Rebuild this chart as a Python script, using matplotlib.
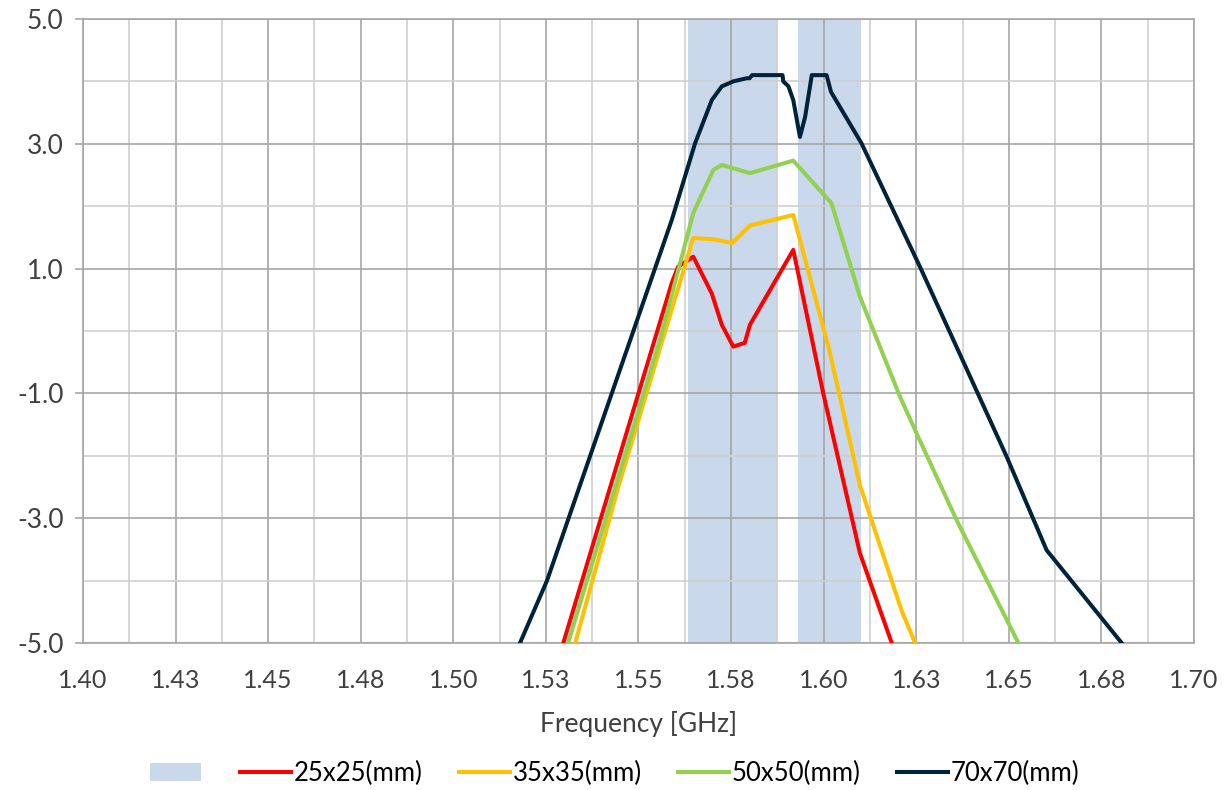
import numpy as np
import matplotlib.pyplot as plt
from matplotlib.ticker import MultipleLocator, FormatStrFormatter
from matplotlib.patches import Patch

plt.rcParams['font.family'] = ['Lato', 'DejaVu Sans']

# GNSS bands (GHz)
bands = [(1.5635, 1.5875), (1.5932, 1.6102)]

# gain curves, read per antenna size
f_25 = [1.5297, 1.5473, 1.5590, 1.5607, 1.5648, 1.5698, 1.5725, 1.5756, 1.5787, 1.5801, 1.5918, 1.5999, 1.6098, 1.6184]
g_25 = [-5.0, -1.53, 0.77, 1.03, 1.19, 0.60, 0.10, -0.25, -0.19, 0.10, 1.30, -1.0, -3.56, -5.0]

f_35 = [1.5329, 1.5446, 1.5648, 1.5702, 1.5753, 1.5801, 1.5918, 1.6015, 1.6098, 1.6210, 1.6247]
g_35 = [-5.0, -2.49, 1.49, 1.47, 1.41, 1.69, 1.86, -0.30, -2.47, -4.47, -5.0]

f_50 = [1.5310, 1.5558, 1.5648, 1.5702, 1.5725, 1.5801, 1.5918, 1.6021, 1.6098, 1.6206, 1.6251, 1.6359, 1.6526]
g_50 = [-5.0, -0.14, 1.89, 2.58, 2.66, 2.53, 2.73, 2.05, 0.55, -1.05, -1.64, -3.03, -5.0]

f_70 = [1.5180, 1.5253, 1.5590, 1.5653, 1.5698, 1.5725, 1.5756, 1.5792, 1.5800, 1.5807, 1.5889, 1.5891,
        1.5905, 1.5918, 1.5936, 1.5950, 1.5968, 1.6008, 1.6020, 1.6102, 1.6260, 1.6494, 1.6602, 1.6805]
g_70 = [-5.0, -4.0, 1.78, 3.01, 3.70, 3.92, 4.0, 4.05, 4.05, 4.10, 4.10, 4.0,
        3.92, 3.70, 3.11, 3.43, 4.10, 4.10, 3.83, 3.01, 1.03, -2.01, -3.51, -5.0]

series = [
    (f_25, g_25, '25x25(mm)', '#ff0000'),
    (f_35, g_35, '35x35(mm)', '#ffc000'),
    (f_50, g_50, '50x50(mm)', '#92d050'),
    (f_70, g_70, '70x70(mm)', '#002339'),
]
band_color = '#c9d8ea'
grid_major = '#a6a6a6'
grid_minor = '#d0d0d0'
text_color = '#404040'

fig = plt.figure(figsize=(12.29, 7.90), dpi=100)
ax = fig.add_axes([0.0675, 0.186, 0.904, 0.79])

for lo, hi in bands:
    ax.axvspan(lo, hi, color=band_color, zorder=0, lw=0)

for f, g, name, c in series:
    ax.plot(f, g, color=c, lw=2.9, label=name, zorder=3, solid_joinstyle='round')

ax.set_xlim(1.40, 1.70)
ax.set_ylim(-5, 5)
ax.xaxis.set_major_locator(MultipleLocator(0.025))
ax.xaxis.set_minor_locator(MultipleLocator(0.0125))
ax.yaxis.set_major_locator(MultipleLocator(2))
ax.yaxis.set_minor_locator(MultipleLocator(1))
ax.xaxis.set_major_formatter(FormatStrFormatter('%.2f'))
ax.yaxis.set_major_formatter(FormatStrFormatter('%.1f'))
ax.set_yticks(np.arange(-5, 5.1, 2))

ax.set_axisbelow(True)
ax.grid(which='major', color=grid_major, lw=1.2)
ax.grid(which='minor', color=grid_minor, lw=1.2)
ax.tick_params(which='both', length=0, labelsize=18, colors=text_color, pad=19)
ax.tick_params(axis='y', which='major', length=6, width=1.2, color=grid_major, direction='out',
               pad=8, labelsize=19)
for s in ax.spines.values():
    s.set_color(grid_major)
    s.set_linewidth(1.2)

ax.set_xlabel('Frequency [GHz]', fontsize=19, color=text_color, labelpad=13)

handles = [Patch(facecolor=band_color, edgecolor='none')] + ax.get_lines()
labels = [''] + [s[2] for s in series]
fig.legend(handles, labels, loc='lower center', bbox_to_anchor=(0.5, -0.024), ncol=5,
           frameon=False, fontsize=18.5, handlelength=2.0, columnspacing=1.4, handletextpad=0.1,
           labelcolor='#000000')

fig.savefig('out.png', dpi=100)
